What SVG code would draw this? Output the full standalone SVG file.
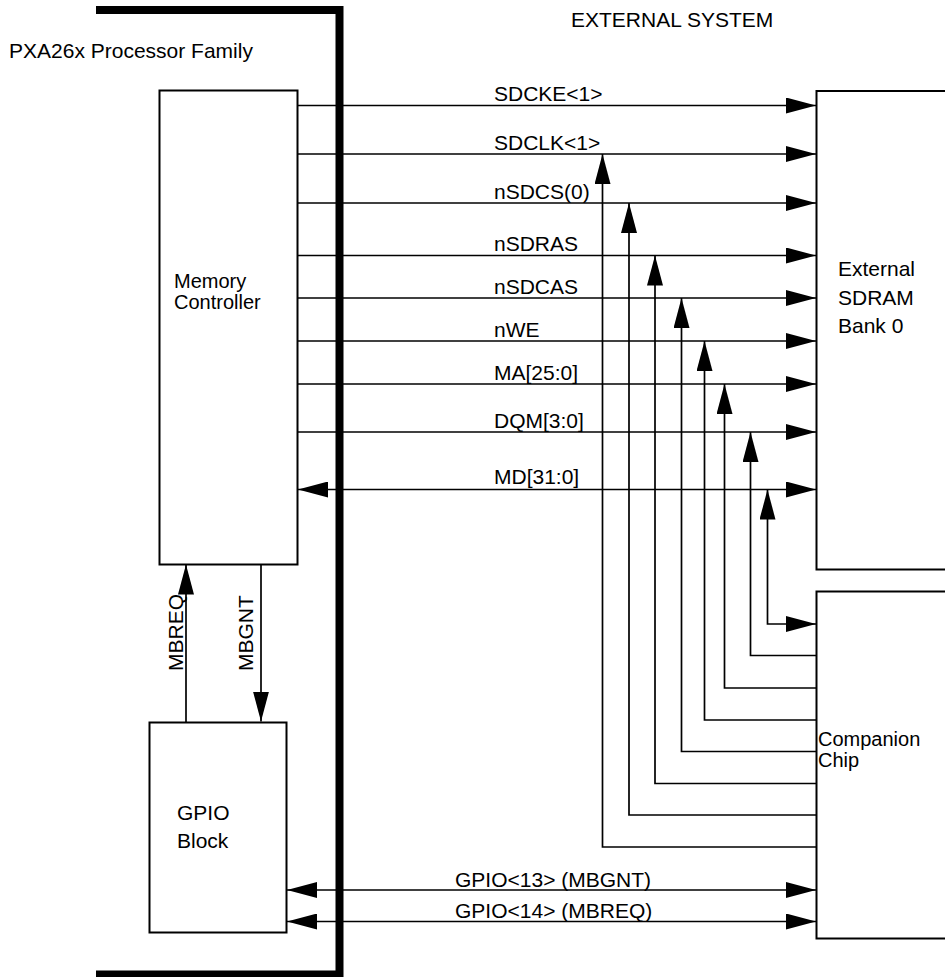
<svg xmlns="http://www.w3.org/2000/svg" width="945" height="977" viewBox="0 0 945 977">
<style>
text{font-family:"Liberation Sans",Arial,sans-serif;font-size:21px;fill:#000}
.tight{font-size:20px}
.box{fill:#fff;stroke:#000;stroke-width:2}
.w{fill:none;stroke:#000;stroke-width:1.7}
.a{marker-end:url(#ah)}
.b{marker-start:url(#ah);marker-end:url(#ah)}
</style>
<defs>
<marker id="ah" markerUnits="userSpaceOnUse" markerWidth="30" markerHeight="16" refX="30" refY="8" orient="auto-start-reverse" viewBox="0 0 30 16">
<path d="M0,0 L30,8 L0,16 z" fill="#000"/>
</marker>
</defs>
<rect width="945" height="977" fill="#fff"/>
<g id="frame">
<path d="M96,10 H339.5 V974.5 H96" fill="none" stroke="#000" stroke-width="8" stroke-linejoin="miter"/>
<text x="9" y="58">PXA26x Processor Family</text>
<text x="571" y="27">EXTERNAL SYSTEM</text>
</g>
<g id="memctrl">
<rect class="box" x="159.5" y="90.5" width="138" height="474"/>
<text class="tight" x="174" y="288">Memory</text>
<text class="tight" x="174" y="309">Controller</text>
</g>
<g id="gpio">
<rect class="box" x="149.5" y="722.5" width="137" height="210"/>
<text x="177" y="820">GPIO</text>
<text x="177" y="848">Block</text>
</g>
<g id="sdram">
<rect class="box" x="816.5" y="91" width="140" height="478.5"/>
<text x="838" y="276">External</text>
<text x="838" y="305">SDRAM</text>
<text x="838" y="333">Bank 0</text>
</g>
<g id="companion">
<rect class="box" x="816.5" y="591.5" width="140" height="347"/>
<text class="tight" x="818" y="746">Companion</text>
<text class="tight" x="818" y="767">Chip</text>
</g>
<g id="connectors">
<path class="w a" d="M298,105.5 H816"/>
<path class="w a" d="M298,154 H816"/>
<path class="w a" d="M298,203 H816"/>
<path class="w a" d="M298,255.5 H816"/>
<path class="w a" d="M298,298 H816"/>
<path class="w a" d="M298,341 H816"/>
<path class="w a" d="M298,384 H816"/>
<path class="w a" d="M298,432 H816"/>
<path class="w b" d="M298,489.5 H816"/>
<path class="w a" d="M817,847 H602.5 V154"/>
<path class="w a" d="M817,815 H629 V203"/>
<path class="w a" d="M817,783.5 H655 V255.5"/>
<path class="w a" d="M817,751.5 H681.5 V298"/>
<path class="w a" d="M817,720 H704.5 V341"/>
<path class="w a" d="M817,688 H724.5 V384"/>
<path class="w a" d="M817,655.5 H750.5 V432"/>
<path class="w b" d="M767.5,489.5 V624 H816"/>
<path class="w a" d="M186,722.5 V564.5"/>
<path class="w a" d="M261,564.5 V721.5"/>
<path class="w b" d="M287,890 H816"/>
<path class="w b" d="M287,921.5 H816"/>
<text x="494" y="101">SDCKE&lt;1&gt;</text>
<text x="494" y="150">SDCLK&lt;1&gt;</text>
<text x="494" y="198.5">nSDCS(0)</text>
<text x="494" y="251">nSDRAS</text>
<text x="494" y="294">nSDCAS</text>
<text x="494" y="337">nWE</text>
<text x="494" y="380">MA[25:0]</text>
<text x="494" y="428">DQM[3:0]</text>
<text x="494" y="483.5">MD[31:0]</text>
<text transform="translate(183,671) rotate(-90)">MBREQ</text>
<text transform="translate(253,671) rotate(-90)">MBGNT</text>
<text x="455" y="886.5">GPIO&lt;13&gt; (MBGNT)</text>
<text x="455" y="917.5">GPIO&lt;14&gt; (MBREQ)</text>
</g>
</svg>
